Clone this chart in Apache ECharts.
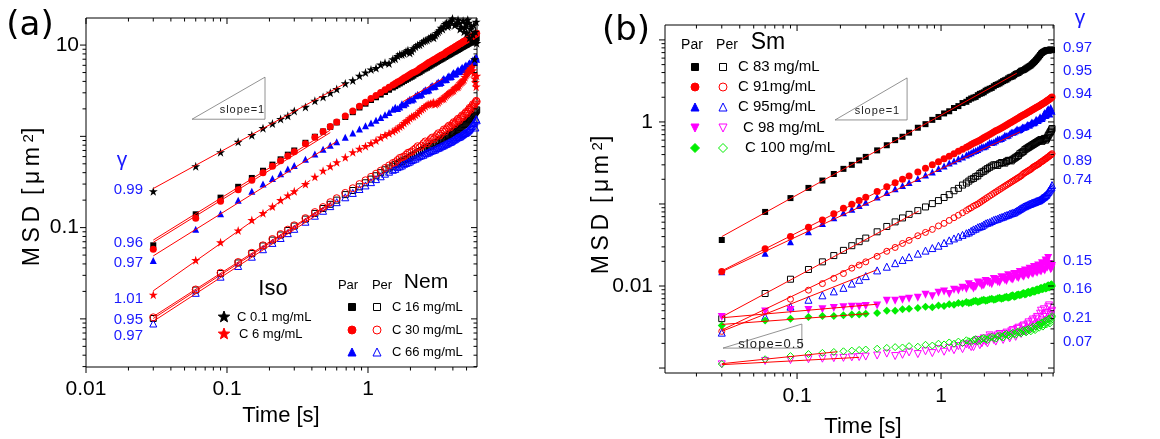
<!DOCTYPE html>
<html><head><meta charset="utf-8">
<script src="https://cdn.jsdelivr.net/npm/echarts@6/dist/echarts.min.js"></script>
<style>html,body{margin:0;padding:0;background:#fff}#c{width:1160px;height:439px}</style>
</head><body><div id="c"></div>
<script>
// ---------- DATA ----------
// lag times (s)
const T = [0.03,0.06,0.09,0.12,0.15,0.18,0.21,0.24,0.27,0.30,0.36,0.42,0.48,0.54,0.60,0.69,0.78,0.87,0.96,1.05,1.14,1.23,1.32,1.41,1.50,1.62,1.74,1.86,1.98,2.10,2.25,2.40,2.55,2.70,2.85,3.00,3.15,3.30,3.45,3.60,3.75,3.90,4.05,4.20,4.35,4.50,4.65,4.80,4.95,5.10,5.25,5.40,5.55,5.70,5.85];
// extra lag times in the dense long-time part
const T2 = [1.56,1.68,1.80,1.92,2.04,2.175,2.325,2.475,2.625,2.775,2.925,3.075,3.225,3.375,3.525,3.675,3.825,3.975,4.125,4.275,4.425,4.575,4.725,4.875,5.025,5.175,5.325,5.475,5.625,5.775,5.90];

// panel (a) MSD values (um^2): first on T, second (…b) on T2
const isoC01 = [0.25,0.47,0.67,0.87,1.03,1.23,1.38,1.55,1.68,1.90,2.10,2.45,2.70,3.00,3.30,3.80,4.10,4.60,5.00,5.40,5.60,6.10,6.40,6.30,7.00,7.60,7.90,8.50,8.20,9.20,10.0,10.5,11.2,11.8,12.5,12.8,14.0,15.5,16.0,17.5,16.5,18.5,20.5,17.0,19.0,15.0,21.0,14.0,17.0,19.0,12.0,16.0,13.0,7.0,18.0];
const isoC01b = [7.1,7.9,8.1,8.8,8.6,9.6,10.1,11.0,11.4,12.2,12.0,13.5,14.5,15.0,17.0,16.0,18.0,19.5,16.5,21.0,17.5,16.0,18.5,15.5,13.5,17.5,15.0,11.0,16.5,14.0,10.5];
const isoC6 = [0.0184,0.044,0.069,0.093,0.121,0.144,0.17,0.20,0.225,0.25,0.30,0.36,0.42,0.47,0.52,0.59,0.67,0.73,0.78,0.84,0.90,0.97,1.03,1.08,1.13,1.22,1.32,1.46,1.58,1.66,1.79,1.98,2.14,2.25,2.30,2.25,2.36,2.55,2.60,2.82,2.97,3.10,3.20,3.45,3.50,3.80,4.00,4.20,4.70,5.00,5.30,5.60,5.30,4.30,3.50];
const isoC6b = [1.18,1.28,1.40,1.50,1.64,1.72,1.90,2.05,2.22,2.28,2.36,2.30,2.45,2.58,2.72,2.90,3.05,3.15,3.35,3.48,3.62,3.92,4.10,4.45,4.85,5.20,5.50,5.80,4.90,3.90,4.60];
const nem16Par = [0.064,0.140,0.213,0.28,0.35,0.42,0.49,0.56,0.63,0.70,0.85,0.99,1.13,1.27,1.42,1.63,1.84,2.07,2.28,2.50,2.68,2.87,3.06,3.24,3.43,3.68,3.92,4.16,4.40,4.63,4.93,5.23,5.53,5.82,6.12,6.40,6.70,6.98,7.27,7.55,7.83,8.10,8.40,8.65,8.90,9.20,9.50,9.75,10.0,10.3,10.6,10.8,11.1,11.4,11.7];
const nem16Parb = [3.55,3.80,4.05,4.28,4.50,4.80,5.05,5.40,5.65,5.95,6.25,6.55,6.85,7.10,7.40,7.70,7.95,8.25,8.50,8.80,9.05,9.35,9.60,9.90,10.1,10.4,10.7,10.9,11.3,11.5,11.9];
const nem30Par = [0.058,0.127,0.195,0.26,0.33,0.40,0.47,0.54,0.61,0.68,0.83,0.98,1.13,1.28,1.44,1.67,1.90,2.14,2.37,2.60,2.81,3.02,3.23,3.44,3.65,3.93,4.20,4.47,4.75,5.02,5.30,5.70,6.04,6.45,6.72,7.05,7.38,7.72,7.95,8.38,8.70,9.04,9.36,9.70,10.0,10.35,10.7,11.0,11.3,11.65,12.0,12.3,12.6,12.95,13.3];
const nem30Parb = [3.80,4.05,4.35,4.60,4.90,5.15,5.55,5.85,6.25,6.55,6.90,7.20,7.55,7.85,8.20,8.55,8.85,9.20,9.55,9.85,10.2,10.5,10.85,11.15,11.5,11.8,12.15,12.45,12.8,13.1,13.5];
const nem66Par = [0.0435,0.096,0.142,0.20,0.25,0.30,0.345,0.39,0.44,0.48,0.56,0.64,0.72,0.80,0.87,0.98,1.09,1.20,1.31,1.40,1.50,1.61,1.72,1.82,1.98,2.02,2.28,2.30,2.55,2.56,2.90,2.90,3.25,3.22,3.60,3.55,3.95,3.88,4.30,4.20,4.62,4.52,5.00,4.85,5.35,5.15,5.70,5.45,6.05,5.75,6.40,6.05,6.90,6.50,7.40];
const nem66Parb = [2.08,2.10,2.22,2.46,2.50,2.78,2.82,3.12,3.15,3.48,3.50,3.82,3.82,4.16,4.16,4.50,4.48,4.84,4.82,5.18,5.10,5.50,5.40,5.88,5.70,6.25,6.05,6.65,6.45,7.15,7.00];
const nem16Per = [0.0101,0.0207,0.0314,0.041,0.052,0.063,0.073,0.083,0.093,0.104,0.124,0.143,0.162,0.180,0.20,0.23,0.255,0.28,0.31,0.34,0.37,0.40,0.43,0.45,0.47,0.50,0.53,0.56,0.59,0.62,0.66,0.70,0.74,0.77,0.80,0.84,0.88,0.92,0.96,1.00,1.04,1.08,1.12,1.16,1.20,1.25,1.30,1.35,1.40,1.48,1.55,1.62,1.70,1.80,1.90];
const nem16Perb = [0.49,0.52,0.55,0.57,0.61,0.64,0.68,0.72,0.76,0.78,0.83,0.86,0.90,0.94,0.98,1.02,1.06,1.10,1.14,1.18,1.23,1.27,1.33,1.37,1.44,1.52,1.58,1.66,1.75,1.85,1.95];
const nem30Per = [0.0104,0.021,0.032,0.042,0.053,0.064,0.075,0.085,0.095,0.106,0.127,0.148,0.168,0.19,0.21,0.24,0.27,0.30,0.33,0.36,0.39,0.42,0.45,0.48,0.51,0.55,0.59,0.63,0.67,0.71,0.78,0.79,0.88,0.88,0.97,0.98,1.08,1.07,1.19,1.20,1.31,1.30,1.43,1.43,1.56,1.55,1.70,1.68,1.85,1.86,2.05,2.06,2.25,2.25,2.45];
const nem30Perb = [0.52,0.58,0.60,0.66,0.68,0.74,0.76,0.84,0.84,0.93,0.93,1.03,1.02,1.13,1.13,1.26,1.25,1.37,1.36,1.50,1.48,1.63,1.62,1.78,1.77,1.96,1.95,2.15,2.14,2.35,2.40];
const nem66Per = [0.0089,0.0193,0.029,0.038,0.048,0.058,0.068,0.077,0.087,0.097,0.116,0.135,0.153,0.172,0.19,0.215,0.24,0.265,0.29,0.315,0.34,0.365,0.39,0.41,0.43,0.46,0.48,0.51,0.53,0.56,0.59,0.62,0.65,0.67,0.70,0.72,0.75,0.78,0.80,0.83,0.86,0.88,0.92,0.95,0.98,1.00,1.04,1.08,1.10,1.15,1.20,1.28,1.35,1.45,1.55];
const nem66Perb = [0.44,0.47,0.50,0.52,0.55,0.57,0.61,0.63,0.66,0.69,0.71,0.74,0.76,0.79,0.82,0.84,0.87,0.90,0.93,0.97,0.99,1.02,1.06,1.09,1.12,1.17,1.24,1.30,1.40,1.25,1.50];

// panel (b) MSD values (um^2)
const sm83Par = [0.0364,0.080,0.118,0.157,0.193,0.232,0.268,0.30,0.34,0.375,0.45,0.52,0.60,0.66,0.74,0.85,0.94,1.06,1.15,1.27,1.35,1.48,1.56,1.70,1.76,1.93,2.02,2.20,2.30,2.47,2.60,2.82,2.95,3.15,3.28,3.50,3.60,3.85,3.95,4.20,4.30,4.50,4.70,4.90,5.20,5.50,5.90,6.30,6.80,7.10,7.30,7.50,7.40,7.60,7.50];
const sm83Parb = [1.86,1.98,2.12,2.24,2.40,2.54,2.72,2.88,3.05,3.22,3.40,3.55,3.72,3.90,4.08,4.25,4.40,4.60,4.80,5.05,5.35,5.70,6.10,6.55,6.95,7.20,7.40,7.55,7.45,7.65,7.55];
const sm91Par = [0.0150,0.0285,0.040,0.052,0.064,0.076,0.089,0.099,0.110,0.121,0.142,0.162,0.182,0.20,0.22,0.245,0.272,0.30,0.328,0.355,0.382,0.41,0.44,0.465,0.49,0.53,0.565,0.60,0.64,0.68,0.73,0.78,0.82,0.87,0.92,0.97,1.02,1.07,1.12,1.17,1.22,1.27,1.32,1.37,1.42,1.47,1.52,1.57,1.62,1.68,1.73,1.79,1.85,1.92,1.98];
const sm91Parb = [0.51,0.55,0.58,0.62,0.66,0.705,0.755,0.80,0.845,0.895,0.945,0.995,1.045,1.095,1.145,1.195,1.245,1.295,1.345,1.395,1.445,1.495,1.545,1.595,1.65,1.70,1.76,1.82,1.88,1.95,2.02];
const sm95Par = [0.0149,0.025,0.0347,0.046,0.058,0.068,0.078,0.086,0.096,0.105,0.122,0.138,0.153,0.168,0.183,0.205,0.225,0.245,0.27,0.29,0.315,0.335,0.355,0.375,0.395,0.42,0.45,0.48,0.50,0.53,0.56,0.59,0.62,0.65,0.68,0.72,0.75,0.78,0.80,0.83,0.86,0.88,0.92,0.95,0.98,1.00,1.05,1.08,1.10,1.15,1.30,1.22,1.45,1.25,1.40];
const sm95Parb = [0.41,0.44,0.46,0.50,0.51,0.56,0.57,0.62,0.63,0.69,0.69,0.75,0.76,0.82,0.81,0.87,0.87,0.93,0.92,1.00,0.98,1.08,1.04,1.16,1.10,1.25,1.20,1.40,1.28,1.50,1.35];
const sm98Par = [0.0042,0.0049,0.0051,0.0051,0.0052,0.0054,0.0055,0.0056,0.0056,0.0057,0.0058,0.0066,0.0066,0.0068,0.0070,0.0072,0.0078,0.0075,0.0083,0.0086,0.0080,0.0090,0.0088,0.0095,0.0092,0.0100,0.0098,0.0108,0.0102,0.0112,0.0105,0.0118,0.0110,0.0125,0.0115,0.0130,0.0120,0.0138,0.0125,0.0142,0.0130,0.0150,0.0135,0.0158,0.0140,0.0165,0.0145,0.0170,0.0150,0.0180,0.0155,0.0195,0.0220,0.0175,0.0165];
const sm98Parb = [0.0105,0.0093,0.0110,0.0100,0.0115,0.0108,0.0122,0.0112,0.0128,0.0118,0.0135,0.0122,0.0140,0.0128,0.0148,0.0133,0.0155,0.0138,0.0162,0.0143,0.0170,0.0148,0.0178,0.0152,0.0190,0.0160,0.0205,0.0168,0.0185,0.0160,0.0175];
const sm100Par = [0.0033,0.0038,0.0040,0.0042,0.0043,0.0043,0.0044,0.0045,0.0045,0.0046,0.0047,0.0050,0.0050,0.0052,0.0053,0.0054,0.0056,0.0055,0.0058,0.0057,0.0060,0.0059,0.0062,0.0061,0.0064,0.0063,0.0066,0.0065,0.0068,0.0067,0.0070,0.0069,0.0072,0.0071,0.0074,0.0073,0.0077,0.0075,0.0079,0.0078,0.0082,0.0080,0.0085,0.0083,0.0088,0.0086,0.0091,0.0089,0.0095,0.0092,0.0098,0.0094,0.0102,0.0097,0.0105];
const sm100Parb = [0.0062,0.0065,0.0064,0.0067,0.0066,0.0069,0.0068,0.0071,0.0070,0.0073,0.0072,0.0076,0.0074,0.0078,0.0077,0.0081,0.0079,0.0084,0.0082,0.0087,0.0085,0.0090,0.0088,0.0093,0.0091,0.0096,0.0093,0.0100,0.0096,0.0103,0.0100];
const sm83Per = [0.0040,0.0081,0.0121,0.0159,0.0197,0.0235,0.0272,0.031,0.0347,0.0384,0.0458,0.0532,0.0605,0.0676,0.0747,0.083,0.092,0.101,0.110,0.120,0.130,0.145,0.155,0.170,0.180,0.20,0.215,0.235,0.25,0.27,0.29,0.30,0.31,0.32,0.33,0.34,0.35,0.37,0.39,0.42,0.44,0.47,0.49,0.51,0.53,0.55,0.57,0.59,0.61,0.60,0.63,0.62,0.68,0.74,0.80];
const sm83Perb = [0.19,0.205,0.22,0.245,0.26,0.28,0.30,0.295,0.32,0.315,0.34,0.335,0.36,0.38,0.41,0.43,0.46,0.48,0.50,0.52,0.54,0.56,0.58,0.60,0.58,0.62,0.60,0.65,0.71,0.77,0.83];
const sm91Per = [0.0028,0.0049,0.0069,0.0089,0.0107,0.0124,0.0142,0.0165,0.018,0.0197,0.023,0.0265,0.0295,0.033,0.036,0.041,0.045,0.049,0.054,0.058,0.063,0.068,0.073,0.078,0.083,0.090,0.097,0.104,0.112,0.120,0.130,0.140,0.150,0.160,0.170,0.180,0.190,0.200,0.21,0.22,0.235,0.245,0.255,0.265,0.28,0.29,0.30,0.31,0.325,0.335,0.35,0.36,0.375,0.39,0.40];
const sm91Perb = [0.087,0.094,0.100,0.108,0.116,0.125,0.135,0.145,0.155,0.165,0.175,0.185,0.195,0.205,0.215,0.228,0.24,0.25,0.26,0.272,0.285,0.295,0.305,0.318,0.33,0.342,0.355,0.368,0.38,0.395,0.41];
const sm95Per = [0.0027,0.0042,0.0056,0.0068,0.0077,0.0086,0.0095,0.0107,0.0119,0.0132,0.0155,0.0172,0.019,0.0208,0.0225,0.0248,0.027,0.029,0.031,0.0335,0.036,0.038,0.040,0.042,0.044,0.047,0.050,0.053,0.056,0.059,0.062,0.065,0.068,0.070,0.073,0.076,0.078,0.081,0.085,0.089,0.093,0.096,0.099,0.101,0.104,0.106,0.109,0.111,0.115,0.120,0.125,0.130,0.140,0.150,0.160];
const sm95Perb = [0.045,0.049,0.052,0.054,0.058,0.060,0.064,0.066,0.069,0.072,0.074,0.077,0.079,0.083,0.087,0.091,0.094,0.097,0.100,0.103,0.105,0.108,0.110,0.113,0.118,0.122,0.128,0.135,0.145,0.155,0.170];
const sm98Per = [0.00111,0.00122,0.00125,0.00128,0.00130,0.00132,0.00133,0.00135,0.00136,0.00138,0.00142,0.00150,0.00140,0.00145,0.00155,0.00148,0.00160,0.00152,0.00170,0.00158,0.00175,0.00165,0.00185,0.00170,0.00195,0.00180,0.0021,0.0019,0.0023,0.0020,0.0024,0.0021,0.0026,0.0022,0.0027,0.0023,0.0029,0.0024,0.0031,0.0026,0.0033,0.0028,0.0036,0.0030,0.0039,0.0032,0.0042,0.0034,0.0050,0.0036,0.0045,0.0038,0.0055,0.0040,0.0048];
const sm98Perb = [0.0019,0.0018,0.0022,0.0020,0.0021,0.0025,0.0022,0.0025,0.0024,0.0026,0.0025,0.0028,0.0026,0.0030,0.0027,0.0032,0.0029,0.0034,0.0031,0.0037,0.0033,0.0040,0.0035,0.0046,0.0038,0.0052,0.0042,0.0047,0.0058,0.0044,0.0050];
const sm100Per = [0.00112,0.00128,0.00140,0.00148,0.00153,0.00157,0.00160,0.00163,0.00166,0.00168,0.00172,0.00176,0.00180,0.00178,0.00185,0.00182,0.00192,0.00188,0.00198,0.00194,0.00205,0.00198,0.00210,0.00202,0.00218,0.00208,0.00225,0.00215,0.00232,0.00220,0.0024,0.00228,0.0025,0.00236,0.0026,0.00245,0.0027,0.00255,0.0028,0.00265,0.0029,0.00272,0.0030,0.0028,0.0032,0.0029,0.0033,0.0031,0.0035,0.0032,0.0037,0.0034,0.0039,0.0035,0.0041];
const sm100Perb = [0.00212,0.00220,0.00212,0.00228,0.00226,0.00235,0.00232,0.00245,0.00240,0.00255,0.00250,0.00262,0.0026,0.00275,0.0027,0.00285,0.0028,0.00295,0.0029,0.0031,0.0030,0.0032,0.0034,0.0033,0.0036,0.0034,0.0038,0.0036,0.0040,0.0038,0.0043];

// power-law fit segments [t, MSD] end points
const fitIsoC01 = [[0.03,0.268],[0.687,3.79]];
const fitNem16Par = [[0.03,0.073],[0.54,1.17]];
const fitNem30Par = [[0.03,0.069],[0.54,1.10]];
const fitNem66Par = [[0.03,0.049],[0.6,0.88]];
const fitNem66ParLong = [[1.77,2.4],[3.4,4.3]];
const fitIsoC6 = [[0.03,0.0203],[0.39,0.33]];
const fitNem16Per = [[0.03,0.0106],[0.55,0.19]];
const fitNem30Per = [[0.03,0.0101],[0.55,0.185]];
const fitNem66Per = [[0.03,0.0094],[0.55,0.175]];
const fitSm83Par = [[0.03,0.040],[3.36,3.93]];
const fitSm91Par = [[0.03,0.0153],[0.6,0.22]];
const fitSm95Par = [[0.03,0.0149],[3.54,0.76]];
const fitSm83Per = [[0.03,0.0042],[0.70,0.082]];
const fitSm91Per = [[0.03,0.0029],[0.85,0.049]];
const fitSm95Per = [[0.03,0.0028],[0.36,0.0158]];
const fitSm98Par = [[0.03,0.0041],[0.36,0.0060]];
const fitSm100Par = [[0.03,0.0034],[0.31,0.0046]];
const fitSm98Per = [[0.03,0.00110],[0.27,0.00135]];
const fitSm100Per = [[0.03,0.00113],[0.19,0.00158]];

// slope guide triangles (data coords)
const triA = [[0.0565,1.54],[0.186,4.45],[0.186,1.54],[0.0565,1.54]];
const triB1 = [[0.1836,1.058],[0.581,3.44],[0.581,1.058],[0.1836,1.058]];
const triB2 = [[0.0306,0.00175],[0.108,0.00344],[0.108,0.00175],[0.0306,0.00175]];

// tick labels and tick values
const xLabelsA = ['0.01','0.1','1'];
const yLabelsA = ['10','0.1'];
const xLabelsB = ['0.1','1'];
const yLabelsB = ['1','0.01'];
const xMajorA = [0.01,0.1,1];
const xMinorA = [0.02,0.03,0.04,0.05,0.06,0.07,0.08,0.09,0.2,0.3,0.4,0.5,0.6,0.7,0.8,0.9,2,3,4,5];
const yMajorA = [0.01,0.1,1,10];
const yMinorA = [0.003,0.004,0.005,0.006,0.007,0.008,0.009,0.02,0.03,0.04,0.05,0.06,0.07,0.08,0.09,0.2,0.3,0.4,0.5,0.6,0.7,0.8,0.9,2,3,4,5,6,7,8,9];
const xMajorB = [0.1,1];
const xMinorB = [0.02,0.03,0.04,0.05,0.06,0.07,0.08,0.09,0.2,0.3,0.4,0.5,0.6,0.7,0.8,0.9,2,3,4,5,6];
const yMajorB = [0.001,0.01,0.1,1,10];
const yMinorB = [0.002,0.003,0.004,0.005,0.006,0.007,0.008,0.009,0.02,0.03,0.04,0.05,0.06,0.07,0.08,0.09,0.2,0.3,0.4,0.5,0.6,0.7,0.8,0.9,2,3,4,5,6,7,8,9];

// exponents and legend texts
const gammaA = ['0.99','0.96','0.97','1.01','0.95','0.97'];
const gammaB = ['0.97','0.95','0.94','0.94','0.89','0.74','0.15','0.16','0.21','0.07'];
const isoLabels = ['C 0.1 mg/mL','C 6 mg/mL'];
const nemLabels = ['C 16 mg/mL','C 30 mg/mL','C 66 mg/mL'];
const smLabels = ['C 83 mg/mL','C 91mg/mL','C 95mg/mL','C 98 mg/mL','C 100 mg/mL'];

// ---------- CHART ----------
const FONT = '"Liberation Sans", Arial, Helvetica, sans-serif';
const AXA = {xmin:0.01, xmax:5.93, ymin:0.00297, ymax:19.8};
const AXB = {xmin:0.0121, xmax:6.09, ymin:0.00087, ymax:15.2};
const RED='#ff0000', BLK='#000000', BLU='#0000ff', MAG='#ff00ff', GRN='#00ee00', GBLUE='#1a1aff';
const STAR = 'path://M50,0 L61.2,34.5 L97.6,34.5 L68.2,55.9 L79.4,90.5 L50,69.1 L20.6,90.5 L31.8,55.9 L2.4,34.5 L38.8,34.5 Z';
const HS = '\u200a';

function labelFor(v, labels){
  for (const s of labels){ if (Math.abs(Math.log10(parseFloat(s)) - Math.log10(v)) < 0.01) return s; }
  return '';
}
function spaced(s){ return s.split('').join(HS); }
function logAxis(gi, min, max, labels, margin){
  return {type:'log', logBase:10, gridIndex:gi, min, max,
    axisLine:{show:false}, axisTick:{show:false}, splitLine:{show:false},
    minorTick:{show:false}, minorSplitLine:{show:false},
    axisLabel:{show:true, margin, color:'#000', fontSize:21, fontFamily:FONT,
      showMinLabel:true, showMaxLabel:true, formatter:(v)=>labelFor(v, labels)}};
}
function sc(vals, vals2, gi, sym, color, filled, size, rot){
  const data = T.map((t,i)=>[t, vals[i]]).concat(T2.map((t,i)=>[t, vals2[i]]));
  return {type:'scatter', xAxisIndex:gi, yAxisIndex:gi, data,
    symbol:sym, symbolSize:size, symbolRotate:rot||0, silent:true, animation:false, clip:true,
    itemStyle: filled ? {color, opacity:1} : {color:'rgba(255,255,255,0)', borderColor:color, borderWidth:1, opacity:1},
    emphasis:{disabled:true}, z:2};
}
function fit(pts, gi){
  return {type:'line', xAxisIndex:gi, yAxisIndex:gi, data:pts, symbol:'none', silent:true, animation:false,
    lineStyle:{color:RED, width:1}, z:4};
}
function tri(pts, gi){
  return {type:'line', xAxisIndex:gi, yAxisIndex:gi, data:pts, symbol:'none', silent:true, animation:false,
    lineStyle:{color:'#777', width:0.8}, z:3};
}
function ticks(gi, ax, vals, len, dir){
  return {type:'custom', xAxisIndex:gi, yAxisIndex:gi, silent:true, animation:false, z:10, clip:false,
    data: vals.map(v => dir==='x' ? [v, 1] : [1, v]),
    renderItem: function(params, api){
      const st = {stroke:'#000', lineWidth:1};
      if (dir==='x'){
        const v = api.value(0); const a = api.coord([v, ax.ymin]); const b = api.coord([v, ax.ymax]);
        return {type:'group', children:[
          {type:'line', shape:{x1:a[0], y1:a[1], x2:a[0], y2:a[1]+len}, style:st},
          {type:'line', shape:{x1:b[0], y1:b[1], x2:b[0], y2:b[1]+len}, style:st}]};
      } else {
        const v = api.value(1); const a = api.coord([ax.xmin, v]); const b = api.coord([ax.xmax, v]);
        return {type:'group', children:[
          {type:'line', shape:{x1:a[0], y1:a[1], x2:a[0]-len, y2:a[1]}, style:st},
          {type:'line', shape:{x1:b[0], y1:b[1], x2:b[0]-len, y2:b[1]}, style:st}]};
      }
    }};
}
function tx(text, x, y, size, o){
  o = o || {};
  const al = o.align || 'center';
  return {type:'text', x, y, rotation:o.rot||0, silent:true, z:20,
    style:{text, font:(o.weight||'normal')+' '+size+'px '+(o.family||FONT), fill:o.color||'#000',
      align:al, verticalAlign:'middle', textAlign:al, textVerticalAlign:'middle'}};
}
function mk(shape, x, y, s, color, filled){
  const st = filled ? {fill:color, stroke:color, lineWidth:1} : {fill:'rgba(0,0,0,0)', stroke:color, lineWidth:1};
  const h = s/2;
  let el;
  if (shape==='rect') el = {type:'rect', shape:{x:x-h, y:y-h, width:s, height:s}};
  else if (shape==='circle') el = {type:'circle', shape:{cx:x, cy:y, r:h}};
  else if (shape==='tri') el = {type:'polygon', shape:{points:[[x,y-h],[x+h,y+h],[x-h,y+h]]}};
  else if (shape==='dtri') el = {type:'polygon', shape:{points:[[x-h,y-h],[x+h,y-h],[x,y+h]]}};
  else if (shape==='dia') el = {type:'polygon', shape:{points:[[x,y-h],[x+h,y],[x,y+h],[x-h,y]]}};
  else { const p=[]; for(let i=0;i<10;i++){ const a=-Math.PI/2+i*Math.PI/5; const r=(i%2)?h*0.42:h; p.push([x+r*Math.cos(a), y+r*Math.sin(a)]); } el={type:'polygon', shape:{points:p}}; }
  el.style = st; el.silent = true; el.z = 20;
  return el;
}
function msdLabel(x, y){
  return {type:'text', x, y, rotation:Math.PI/2, silent:true, z:20,
    style:{text:'{a|M\u2009S\u2009D\u2009 [\u2009\u03bc\u2009m\u2009}{b|2}{a|]}', align:'center', verticalAlign:'middle', textAlign:'center', textVerticalAlign:'middle',
      rich:{a:{fontSize:23, fontFamily:FONT, fill:'#000'}, b:{fontSize:15, fontFamily:FONT, fill:'#000', verticalAlign:'top'}}}};
}

const graphic = [
  tx('(a)', 30, 26, 34, {family:'"DejaVu Sans", sans-serif'}),
  tx('(b)', 626, 31, 34, {family:'"DejaVu Sans", sans-serif'}),
  msdLabel(33, 197), msdLabel(602, 205),
  tx('Time [s]', 281, 416, 22), tx('Time [s]', 863, 427, 22),
  tx('\u03b3', 122, 160, 21, {color:GBLUE}),
  tx('\u03b3', 1080, 18, 21, {color:GBLUE}),
  tx(spaced('slope=1'), 242, 110, 11, {color:'#222'}),
  tx(spaced('slope=1'), 877, 111, 11, {color:'#222'}),
  tx(spaced('slope=0.5'), 771, 344, 13, {color:'#222'}),
  tx('Iso', 273, 289, 22), tx('Par', 348, 285, 13), tx('Per', 382, 285, 13), tx('Nem', 426, 282, 21),
  mk('star', 224, 317, 12, BLK, true), mk('star', 224, 334, 12, RED, true),
  tx(isoLabels[0], 237, 317, 13, {align:'left'}), tx(isoLabels[1], 239, 334, 13, {align:'left'}),
  mk('rect', 352, 307, 7, BLK, true), mk('rect', 377, 307, 7, BLK, false),
  mk('circle', 352, 330, 8, RED, true), mk('circle', 377, 330, 8, RED, false),
  mk('tri', 352, 352, 8, BLU, true), mk('tri', 377, 352, 8, BLU, false),
  tx(nemLabels[0], 392, 307, 13, {align:'left'}), tx(nemLabels[1], 392, 330, 13, {align:'left'}), tx(nemLabels[2], 392, 352, 13, {align:'left'}),
  tx('Par', 692, 45, 14), tx('Per', 727, 45, 14), tx('Sm', 768, 43, 23),
  mk('rect', 695, 67, 7, BLK, true), mk('rect', 723, 67, 7, BLK, false),
  mk('circle', 695, 87, 8, RED, true), mk('circle', 723, 87, 8, RED, false),
  mk('tri', 695, 107, 8, BLU, true), mk('tri', 723, 107, 8, BLU, false),
  mk('dtri', 695, 128, 8, MAG, true), mk('dtri', 723, 128, 8, MAG, false),
  mk('dia', 695, 148, 9, GRN, true), mk('dia', 723, 148, 9, GRN, false),
  tx(smLabels[0], 738, 67, 15, {align:'left'}), tx(smLabels[1], 738, 87, 15, {align:'left'}),
  tx(smLabels[2], 738, 107, 15, {align:'left'}), tx(smLabels[3], 743, 128, 15, {align:'left'}),
  tx(smLabels[4], 745, 148, 15, {align:'left'})
];
const gyA = [190, 243, 263, 299, 320, 336];
gammaA.forEach((g,i)=>graphic.push(tx(g, 143, gyA[i], 15, {align:'right', color:GBLUE})));
const gyB = [48, 71, 94, 135, 161, 180, 261, 289, 318, 342];
gammaB.forEach((g,i)=>graphic.push(tx(g, 1063, gyB[i], 15, {align:'left', color:GBLUE})));

const series = [
  sc(nem16Par, nem16Parb, 0, 'rect', BLK, true, 6),
  sc(nem66Par, nem66Parb, 0, 'triangle', BLU, true, 7),
  sc(nem30Par, nem30Parb, 0, 'circle', RED, true, 7),
  sc(nem16Per, nem16Perb, 0, 'rect', BLK, false, 6),
  sc(nem66Per, nem66Perb, 0, 'triangle', BLU, false, 7),
  sc(nem30Per, nem30Perb, 0, 'circle', RED, false, 7),
  sc(isoC01, isoC01b, 0, STAR, BLK, true, 9),
  sc(isoC6, isoC6b, 0, STAR, RED, true, 9),
  fit(fitIsoC01,0), fit(fitNem16Par,0), fit(fitNem30Par,0), fit(fitNem66Par,0), fit(fitNem66ParLong,0),
  fit(fitIsoC6,0), fit(fitNem16Per,0), fit(fitNem30Per,0), fit(fitNem66Per,0),
  tri(triA,0),
  sc(sm83Par, sm83Parb, 1, 'rect', BLK, true, 6),
  sc(sm95Par, sm95Parb, 1, 'triangle', BLU, true, 7),
  sc(sm91Par, sm91Parb, 1, 'circle', RED, true, 7),
  sc(sm83Per, sm83Perb, 1, 'rect', BLK, false, 6),
  sc(sm91Per, sm91Perb, 1, 'circle', RED, false, 6),
  sc(sm95Per, sm95Perb, 1, 'triangle', BLU, false, 7),
  sc(sm98Par, sm98Parb, 1, 'triangle', MAG, true, 8, 180),
  sc(sm100Par, sm100Parb, 1, 'diamond', GRN, true, 8),
  sc(sm98Per, sm98Perb, 1, 'triangle', MAG, false, 7, 180),
  sc(sm100Per, sm100Perb, 1, 'diamond', GRN, false, 7),
  fit(fitSm83Par,1), fit(fitSm91Par,1), fit(fitSm95Par,1), fit(fitSm83Per,1), fit(fitSm91Per,1), fit(fitSm95Per,1),
  fit(fitSm98Par,1), fit(fitSm100Par,1), fit(fitSm98Per,1), fit(fitSm100Per,1),
  tri(triB1,1), tri(triB2,1),
  ticks(0, AXA, xMajorA, 6, 'x'), ticks(0, AXA, xMinorA, 3.5, 'x'),
  ticks(0, AXA, yMajorA, 6, 'y'), ticks(0, AXA, yMinorA, 3.5, 'y'),
  ticks(1, AXB, xMajorB, 6, 'x'), ticks(1, AXB, xMinorB, 3.5, 'x'),
  ticks(1, AXB, yMajorB, 6, 'y'), ticks(1, AXB, yMinorB, 3.5, 'y')
];

const option = {
  animation:false, backgroundColor:'#fff',
  grid:[
    {left:86, top:18, width:391, height:349, show:true, borderColor:'#000', borderWidth:1, backgroundColor:'rgba(0,0,0,0)'},
    {left:665, top:25, width:389, height:348, show:true, borderColor:'#000', borderWidth:1, backgroundColor:'rgba(0,0,0,0)'}
  ],
  xAxis:[ logAxis(0, AXA.xmin, AXA.xmax, xLabelsA, 12), logAxis(1, AXB.xmin, AXB.xmax, xLabelsB, 13) ],
  yAxis:[ logAxis(0, AXA.ymin, AXA.ymax, yLabelsA, 7), logAxis(1, AXB.ymin, AXB.ymax, yLabelsB, 12) ],
  series, graphic
};
const chart = echarts.init(document.getElementById('c'), null, {renderer:'canvas'});
chart.setOption(option);
</script>
</body></html>
